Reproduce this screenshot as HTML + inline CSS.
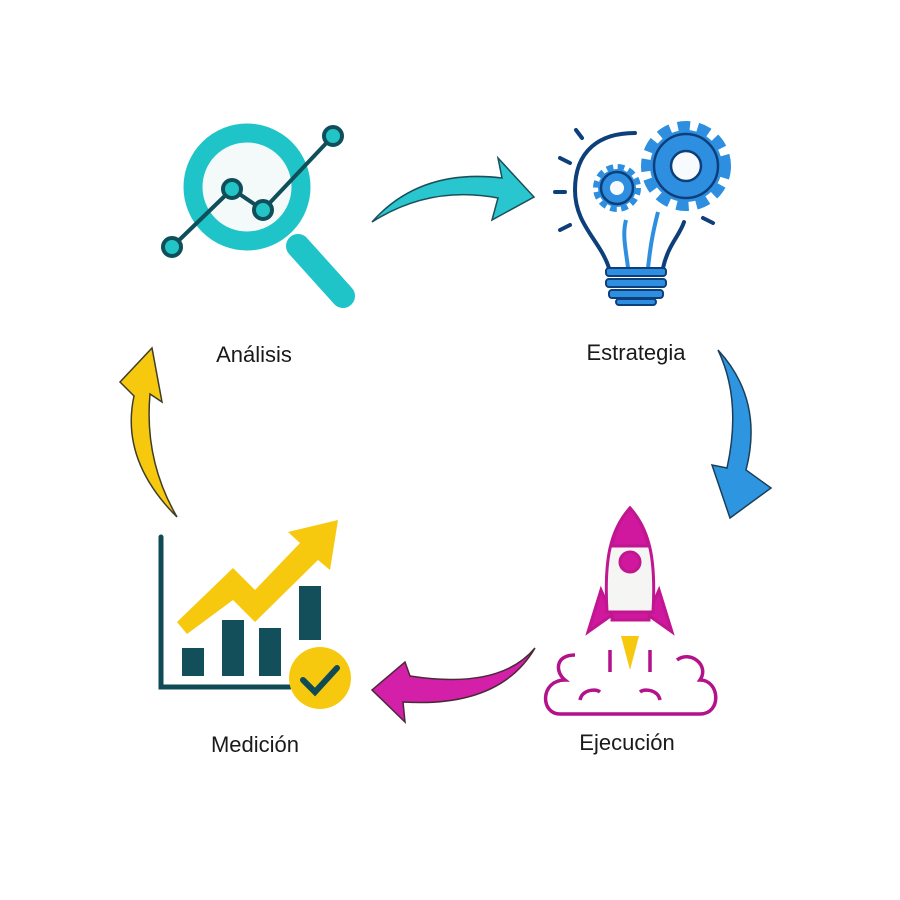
<!DOCTYPE html>
<html><head><meta charset="utf-8"><style>
html,body{margin:0;padding:0;background:#fff;}
svg{display:block}
text{font-family:"Liberation Sans",sans-serif;font-size:22px;fill:#1a1a1a}
</style></head><body>
<svg width="900" height="900" viewBox="0 0 900 900" xmlns="http://www.w3.org/2000/svg">
<rect width="900" height="900" fill="#fff"/>
<!-- Magnifier -->
<line x1="298" y1="246" x2="343" y2="296" stroke="#1fc4c9" stroke-width="24" stroke-linecap="round"/>
<circle cx="247" cy="187" r="54" fill="#f4faf9" stroke="#1fc4c9" stroke-width="19"/>
<polyline points="172,247 232,189 263,210 333,136" fill="none" stroke="#0e4f5a" stroke-width="4"/>
<g fill="#22c4c6" stroke="#0e4f5a" stroke-width="4">
<circle cx="172" cy="247" r="9"/><circle cx="232" cy="189" r="9"/><circle cx="263" cy="210" r="9"/><circle cx="333" cy="136" r="9"/></g>
<!-- top arrow -->
<path d="M372,222 Q420,168 502,178 L498,158 L534,197 L492,220 L498,198 Q430,185 372,222 Z" fill="#2ac6cf" stroke="#1b4f5a" stroke-width="1.5"/>
<!-- bulb -->
<g fill="none" stroke="#0d3f7a" stroke-width="4" stroke-linecap="round">
<path d="M576,130 l6,8 M560,158 l10,5 M555,192 h10 M560,230 l10,-5 M703,218 l10,5"/>
<path d="M609,268 C600,240 575,225 575,190 C575,150 600,133 635,133"/>
<path d="M663,268 C668,245 680,235 684,222"/>
</g>
<g fill="none" stroke="#2e8fe0" stroke-width="4"><path d="M628,268 C626,250 622,235 626,220"/><path d="M648,268 C650,250 652,235 658,212"/></g>
<g fill="#2e8fe0" stroke="#0d3f7a" stroke-width="2">
<rect x="606" y="268" width="60" height="8" rx="3"/><rect x="606" y="279" width="60" height="8" rx="3"/><rect x="609" y="290" width="54" height="8" rx="3"/><rect x="616" y="299" width="40" height="6" rx="3"/></g>
<g fill="#2e8fe0" stroke="#0d3f7a" stroke-width="2.5">
<circle cx="686" cy="166" r="36" stroke-dasharray="11 7" stroke-width="18" stroke="#2e8fe0"/>
<circle cx="686" cy="166" r="32"/>
<circle cx="617" cy="188" r="19" stroke-dasharray="6 4" stroke-width="10" stroke="#2e8fe0"/>
<circle cx="617" cy="188" r="16"/></g>
<circle cx="686" cy="166" r="15" fill="#f7fbfd" stroke="#0d3f7a" stroke-width="2.5"/>
<circle cx="617" cy="188" r="7" fill="#f7fbfd"/>
<!-- blue arrow -->
<path d="M718,350 Q764,400 746,470 L771,488 L730,518 L712,465 L727,468 Q742,400 718,350 Z" fill="#2e95e0" stroke="#1b3f5a" stroke-width="1.5"/>
<!-- rocket -->
<g stroke="#c0168f" stroke-width="3">
<path d="M601,590 L588,632 L612,615 Z M659,590 L672,632 L648,615 Z" fill="#d0189e"/>
<path d="M630,508 C610,530 604,560 607,612 L653,612 C656,560 650,530 630,508 Z" fill="#f5f5f3"/>
<path d="M630,508 C618,522 614,534 612,546 L648,546 C646,534 642,522 630,508 Z" fill="#d0189e"/>
<rect x="612" y="612" width="37" height="8" fill="#d0189e"/>
<circle cx="630" cy="562" r="10" fill="#d0189e"/>
</g>
<path d="M621,636 H639 L630,670 Z" fill="#f6c90e"/>
<path d="M575,655 C555,655 555,672 565,680 C540,680 540,714 560,714 H700 C722,714 720,680 700,680 C710,665 690,650 677,660 M650,650 L650,672 M610,650 L610,672 M580,700 C582,690 595,688 600,692 M660,700 C658,690 645,688 640,692" fill="none" stroke="#b3128a" stroke-width="3.5"/>
<!-- magenta arrow -->
<path d="M535,648 Q500,690 410,676 L405,662 L372,690 L405,722 L403,702 Q500,708 535,648 Z" fill="#d420a8" stroke="#4a2a3a" stroke-width="1.5"/>
<!-- chart -->
<path d="M161,537 V687 H290" fill="none" stroke="#0f4a55" stroke-width="5" stroke-linecap="round"/>
<g fill="#124f5a"><rect x="182" y="648" width="22" height="28"/><rect x="222" y="620" width="22" height="56"/><rect x="259" y="628" width="22" height="48"/><rect x="299" y="586" width="22" height="54"/></g>
<path d="M177,622 L233,568 L255,590 L300,543 L288,532 L338,520 L330,570 L318,560 L255,622 L233,600 L187,634 Z" fill="#f6c90e"/>
<circle cx="320" cy="678" r="31" fill="#f6c90e"/>
<path d="M303,680 L315,692 L337,668" fill="none" stroke="#0f4a55" stroke-width="6" stroke-linecap="round"/>
<!-- yellow arrow -->
<path d="M177,517 Q120,460 134,396 L120,382 L152,348 L162,402 L150,394 Q144,460 177,517 Z" fill="#f6c90e" stroke="#3d3d2a" stroke-width="1.5"/>
<!-- labels -->
<text x="254" y="362" text-anchor="middle">Análisis</text>
<text x="636" y="360" text-anchor="middle">Estrategia</text>
<text x="627" y="750" text-anchor="middle">Ejecución</text>
<text x="255" y="752" text-anchor="middle">Medición</text>
</svg>
</body></html>
